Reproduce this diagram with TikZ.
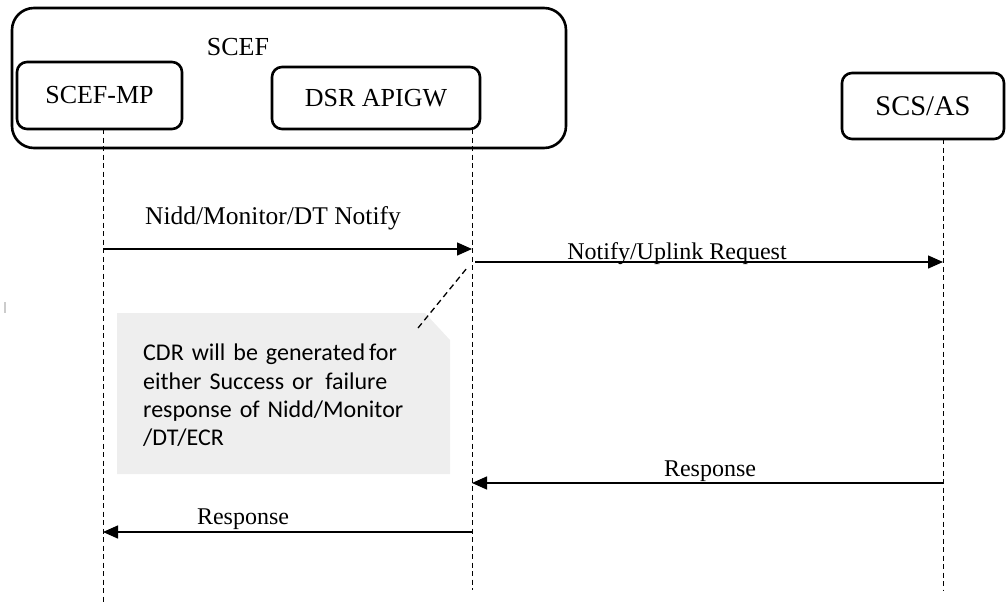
\documentclass[tikz,border=0pt]{standalone}
\usepackage{fontspec}
\setmainfont{Liberation Serif}
\newfontfamily\notefont{Carlito}
\usetikzlibrary{arrows.meta,shapes.misc}
\begin{document}
\begin{tikzpicture}[x=1pt,y=-1pt,
  entity/.style={draw,line width=2.6pt,rounded corners=10pt,font=\fontsize{26}{30}\selectfont,inner sep=0pt},
  lifeline/.style={dashed,line width=1pt,dash pattern=on 5pt off 3.5pt},
  msg/.style={line width=1.4pt,-{Triangle[length=15pt,width=13pt]}},
  msglabel/.style={font=\fontsize{24}{28}\selectfont,inner sep=0pt,anchor=base}]
\useasboundingbox (0,0) rectangle (1006,603);
% boxes
\node[entity,rounded corners=22pt,minimum width=554pt,minimum height=140pt] (scef) at (289,78) {};
\node[font=\fontsize{26}{30}\selectfont,inner sep=0pt] (scefl) at (238,47) {SCEF};
\node[entity,minimum width=165pt,minimum height=67pt] (mp) at (99.5,95.5) {SCEF-MP};
\node[entity,minimum width=208pt,minimum height=62pt] (gw) at (376,98) {\raisebox{-3pt}{DSR APIGW}};
\node[entity,minimum width=162pt,minimum height=66pt,font=\fontsize{28.5}{32}\selectfont] (as) at (923,106) {\raisebox{-4pt}{SCS/AS}};
% lifeline coordinates
\coordinate (mpT) at (103,129);
\coordinate (mpB) at (103,603);
\coordinate (gwT) at (472,129);
\coordinate (gwB) at (472,590);
\coordinate (asT) at (943,139);
\coordinate (asB) at (943,590);
\draw[lifeline] (mpT) -- (mpB);
\draw[lifeline] (gwT) -- (gwB);
\draw[lifeline] (asT) -- (asB);
% message points
\coordinate (m1a) at (103,249);
\coordinate (m1b) at (472,249);
\coordinate (m2a) at (475,262);
\coordinate (m2b) at (943,262);
\coordinate (m3a) at (943,483);
\coordinate (m3b) at (472,483);
\coordinate (m4a) at (472,532);
\coordinate (m4b) at (103,532);
\draw[msg] (m1a) -- (m1b);
\node[msglabel,font=\fontsize{25.5}{28}\selectfont] (l1) at (273,224) {Nidd/Monitor/DT Notify};
\draw[msg] (m2a) -- (m2b);
\node[msglabel] (l2) at (677,259) {Notify/Uplink Request};
\draw[msg] (m3a) -- (m3b);
\node[msglabel] (l3) at (710,476) {Response};
\draw[msg] (m4a) -- (m4b);
\node[msglabel] (l4) at (243,524) {Response};
% note
\fill[gray!13] (117,313) -- (425,313) -- (450,340) -- (450,474) -- (117,474) -- cycle;
\node[font=\notefont\fontsize{24}{28.2}\selectfont,inner sep=0pt,anchor=north west,text width=300pt,align=left] (note) at (143,344)
 {CDR will be generated\,for\\either Success or\, failure\\response of Nidd/Monitor\\/DT/ECR};
\coordinate (c1) at (418,328);
\coordinate (c2) at (467,268);
\draw[dashed,line width=1.3pt,dash pattern=on 6pt off 4pt] (c1) -- (c2);
% artifact
\draw[gray!40,line width=1.5pt] (5,302) -- (5,313);
\end{tikzpicture}
\end{document}
